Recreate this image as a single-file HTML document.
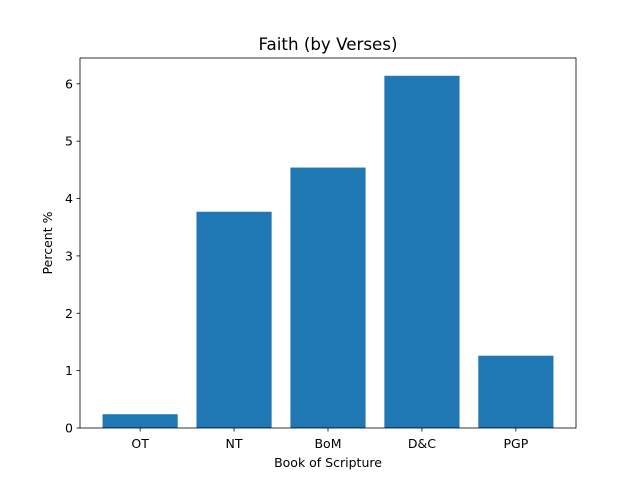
<!DOCTYPE html>
<html><head><meta charset="utf-8"><style>
body{margin:0;background:#fff}
svg text{font-family:"DejaVu Sans","Liberation Sans",sans-serif;fill:#000}
</style></head><body>
<svg id="c" width="640" height="480" xmlns="http://www.w3.org/2000/svg"></svg>
<script>
const categories = ["OT","NT","BoM","D&C","PGP"];
const values = [0.24, 3.77, 4.54, 6.14, 1.26];
const yTicks = [0,1,2,3,4,5,6];
const L=80,R=576,T=58,B=428;
const yMax = 6.45;
const xMin=-0.64, xMax=categories.length-1+0.64;
const sx = v => L + (v - xMin)/(xMax-xMin)*(R-L);
const sy = v => B - v/yMax*(B-T);
const svg = document.getElementById('c');
const NS="http://www.w3.org/2000/svg";
function mk(t,a,txt){const e=document.createElementNS(NS,t);for(const k in a)e.setAttribute(k,a[k]);if(txt!==undefined)e.textContent=txt;svg.appendChild(e);return e;}
values.forEach((v,i)=>{
  const w=0.8*(R-L)/(xMax-xMin);
  const r=mk('rect',{x:sx(i)-w/2,y:sy(v),width:w,height:sy(0)-sy(v),fill:'#1f77b4'});
  
  
  const tk=mk('line',{x1:sx(i),x2:sx(i),y1:B,y2:B+3.5,stroke:'#000','stroke-width':0.8});
  
  
  const t=mk('text',{x:sx(i),y:B+20,'font-size':12.5,'text-anchor':'middle'},categories[i]);
  
  
});
yTicks.forEach(v=>{
  const tk=mk('line',{x1:L-3.5,x2:L,y1:sy(v),y2:sy(v),stroke:'#000','stroke-width':0.8});
  
  
  const t=mk('text',{x:L-7,y:sy(v)+4.5,'font-size':12.5,'text-anchor':'end'},String(v));
  
  
});
const fr=mk('rect',{x:L,y:T,width:R-L,height:B-T,fill:'none',stroke:'#000','stroke-width':0.8});


const ti=mk('text',{x:(L+R)/2,y:T-8,'font-size':16.7,'text-anchor':'middle'},'Faith (by Verses)');


const xl=mk('text',{x:(L+R)/2,y:B+39,'font-size':12.5,'text-anchor':'middle'},'Book of Scripture');


const yl=mk('text',{x:0,y:0,'font-size':12.5,'text-anchor':'middle',transform:`translate(52,${(T+B)/2}) rotate(-90)`},'Percent %');


</script>
</body></html>
